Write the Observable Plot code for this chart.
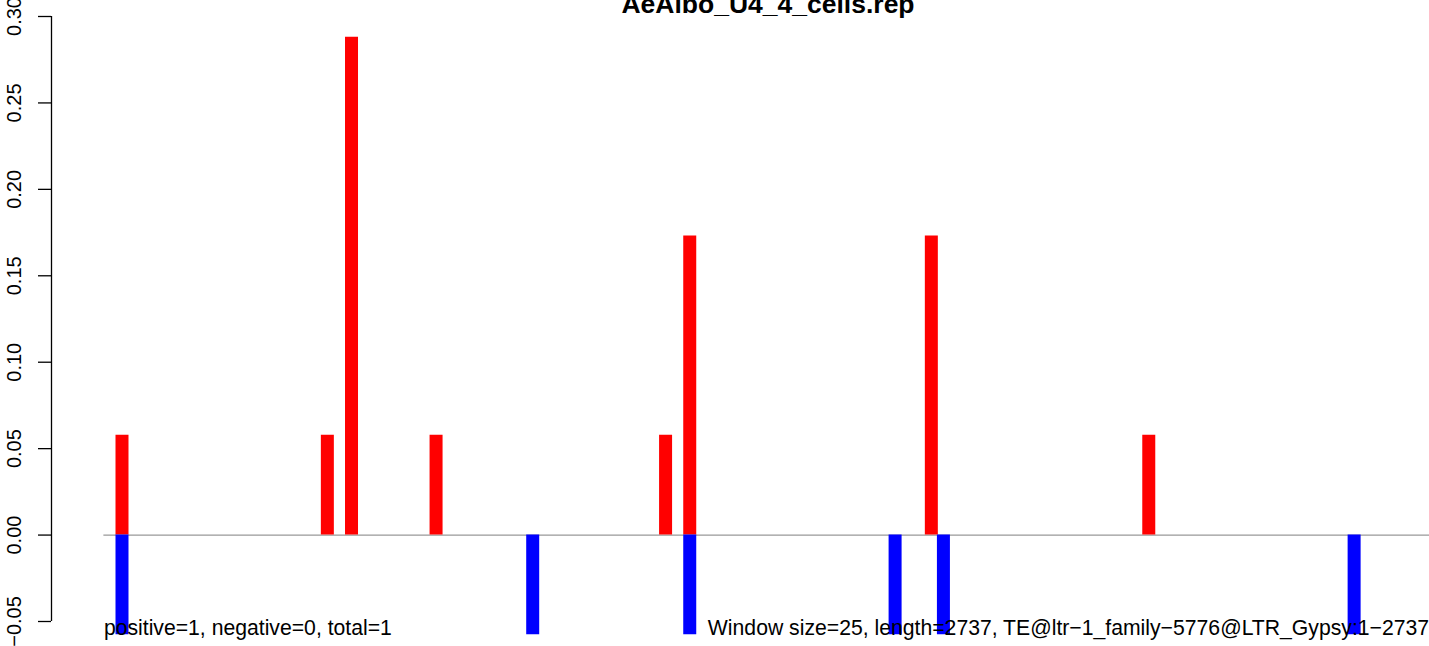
<!DOCTYPE html>
<html>
<head>
<meta charset="utf-8">
<script src="https://cdn.jsdelivr.net/npm/d3@7"></script>
<script src="https://cdn.jsdelivr.net/npm/@observablehq/plot@0.6"></script>
<style>
  html, body { margin: 0; padding: 0; background: #fff; overflow: hidden; }
  #chart svg { display: block; }
</style>
</head>
<body>
<div id="chart"></div>
<script>
// ---- data ----
const title = "AeAlbo_U4_4_cells.rep";
const posWindows = [0, 17, 19, 26, 45, 47, 67, 85];
const posValues  = [0.0577, 0.0577, 0.288, 0.0577, 0.0577, 0.173, 0.173, 0.0577];
const negWindows = [0, 34, 47, 64, 68, 102];
const negValues  = [-0.0577, -0.0577, -0.0577, -0.0577, -0.0577, -0.0577];
const yTicks = [-0.05, 0, 0.05, 0.10, 0.15, 0.20, 0.25, 0.30];
const xRange = [-1.5, 108.3];          // extent of the windows axis (zero line)
const leftNote = "positive=1, negative=0, total=1";
const rightNote = "Window size=25, length=2737, TE@ltr\u22121_family\u22125776@LTR_Gypsy:1\u22122737";
const rightNoteAt = 48.5;

// ---- tables built from the arrays ----
const pos = posWindows.map((w, i) => ({w, v: posValues[i]}));
const neg = negWindows.map((w, i) => ({w, v: negValues[i]}));

const font = "'Liberation Sans', Arial, Helvetica, sans-serif";
const fmt = d3.format(".2f");
const xDomain = [-5.836, 108.24];

const chart = Plot.plot({
  width: 1429,
  height: 646,
  marginLeft: 51,
  marginRight: 0,
  marginTop: 16,
  marginBottom: 25,
  style: {fontFamily: font, background: "#fff", overflow: "visible"},
  x: {domain: xDomain, axis: null},
  y: {domain: [-0.05, 0.30], axis: null},
  marks: [
    // zero line
    Plot.ruleY([0], {x1: xRange[0], x2: xRange[1], stroke: "#999999", strokeWidth: 1.3}),
    // bars
    Plot.ruleX(pos, {x: "w", y1: 0, y2: "v", stroke: "#FF0000", strokeWidth: 13}),
    Plot.ruleX(neg, {x: "w", y1: 0, y2: "v", stroke: "#0000FF", strokeWidth: 13}),
    // y axis line + ticks
    Plot.ruleX([xDomain[0]], {y1: yTicks[0], y2: yTicks[yTicks.length - 1], stroke: "#000", strokeWidth: 1.3}),
    Plot.axisY(yTicks, {anchor: "left", tickSize: 13, tickFormat: () => "", label: null, stroke: "#000", strokeWidth: 1.3}),
    // y tick labels (rotated as in R)
    Plot.text(yTicks, {
      y: d => d, text: d => fmt(d), frameAnchor: "left", dx: -30.5,
      rotate: -90, textAnchor: "middle", lineAnchor: "bottom",
      fontSize: 20, fill: "#000"
    }),
    // title (partly cut by the top edge, as in the reference)
    Plot.text([title], {
      frameAnchor: "top", dx: 27.5, dy: -3.7, lineAnchor: "bottom",
      fontSize: 26.5, fontWeight: "bold", fill: "#000"
    }),
    // bottom notes
    Plot.text([leftNote], {
      x: xRange[0], frameAnchor: "bottom", dy: 13.5, textAnchor: "start",
      lineAnchor: "bottom", fontSize: 21.2, fill: "#000"
    }),
    Plot.text([rightNote], {
      x: rightNoteAt, frameAnchor: "bottom", dy: 13.5, textAnchor: "start",
      lineAnchor: "bottom", fontSize: 21.2, fill: "#000"
    })
  ]
});
document.getElementById("chart").appendChild(chart);
</script>
</body>
</html>
